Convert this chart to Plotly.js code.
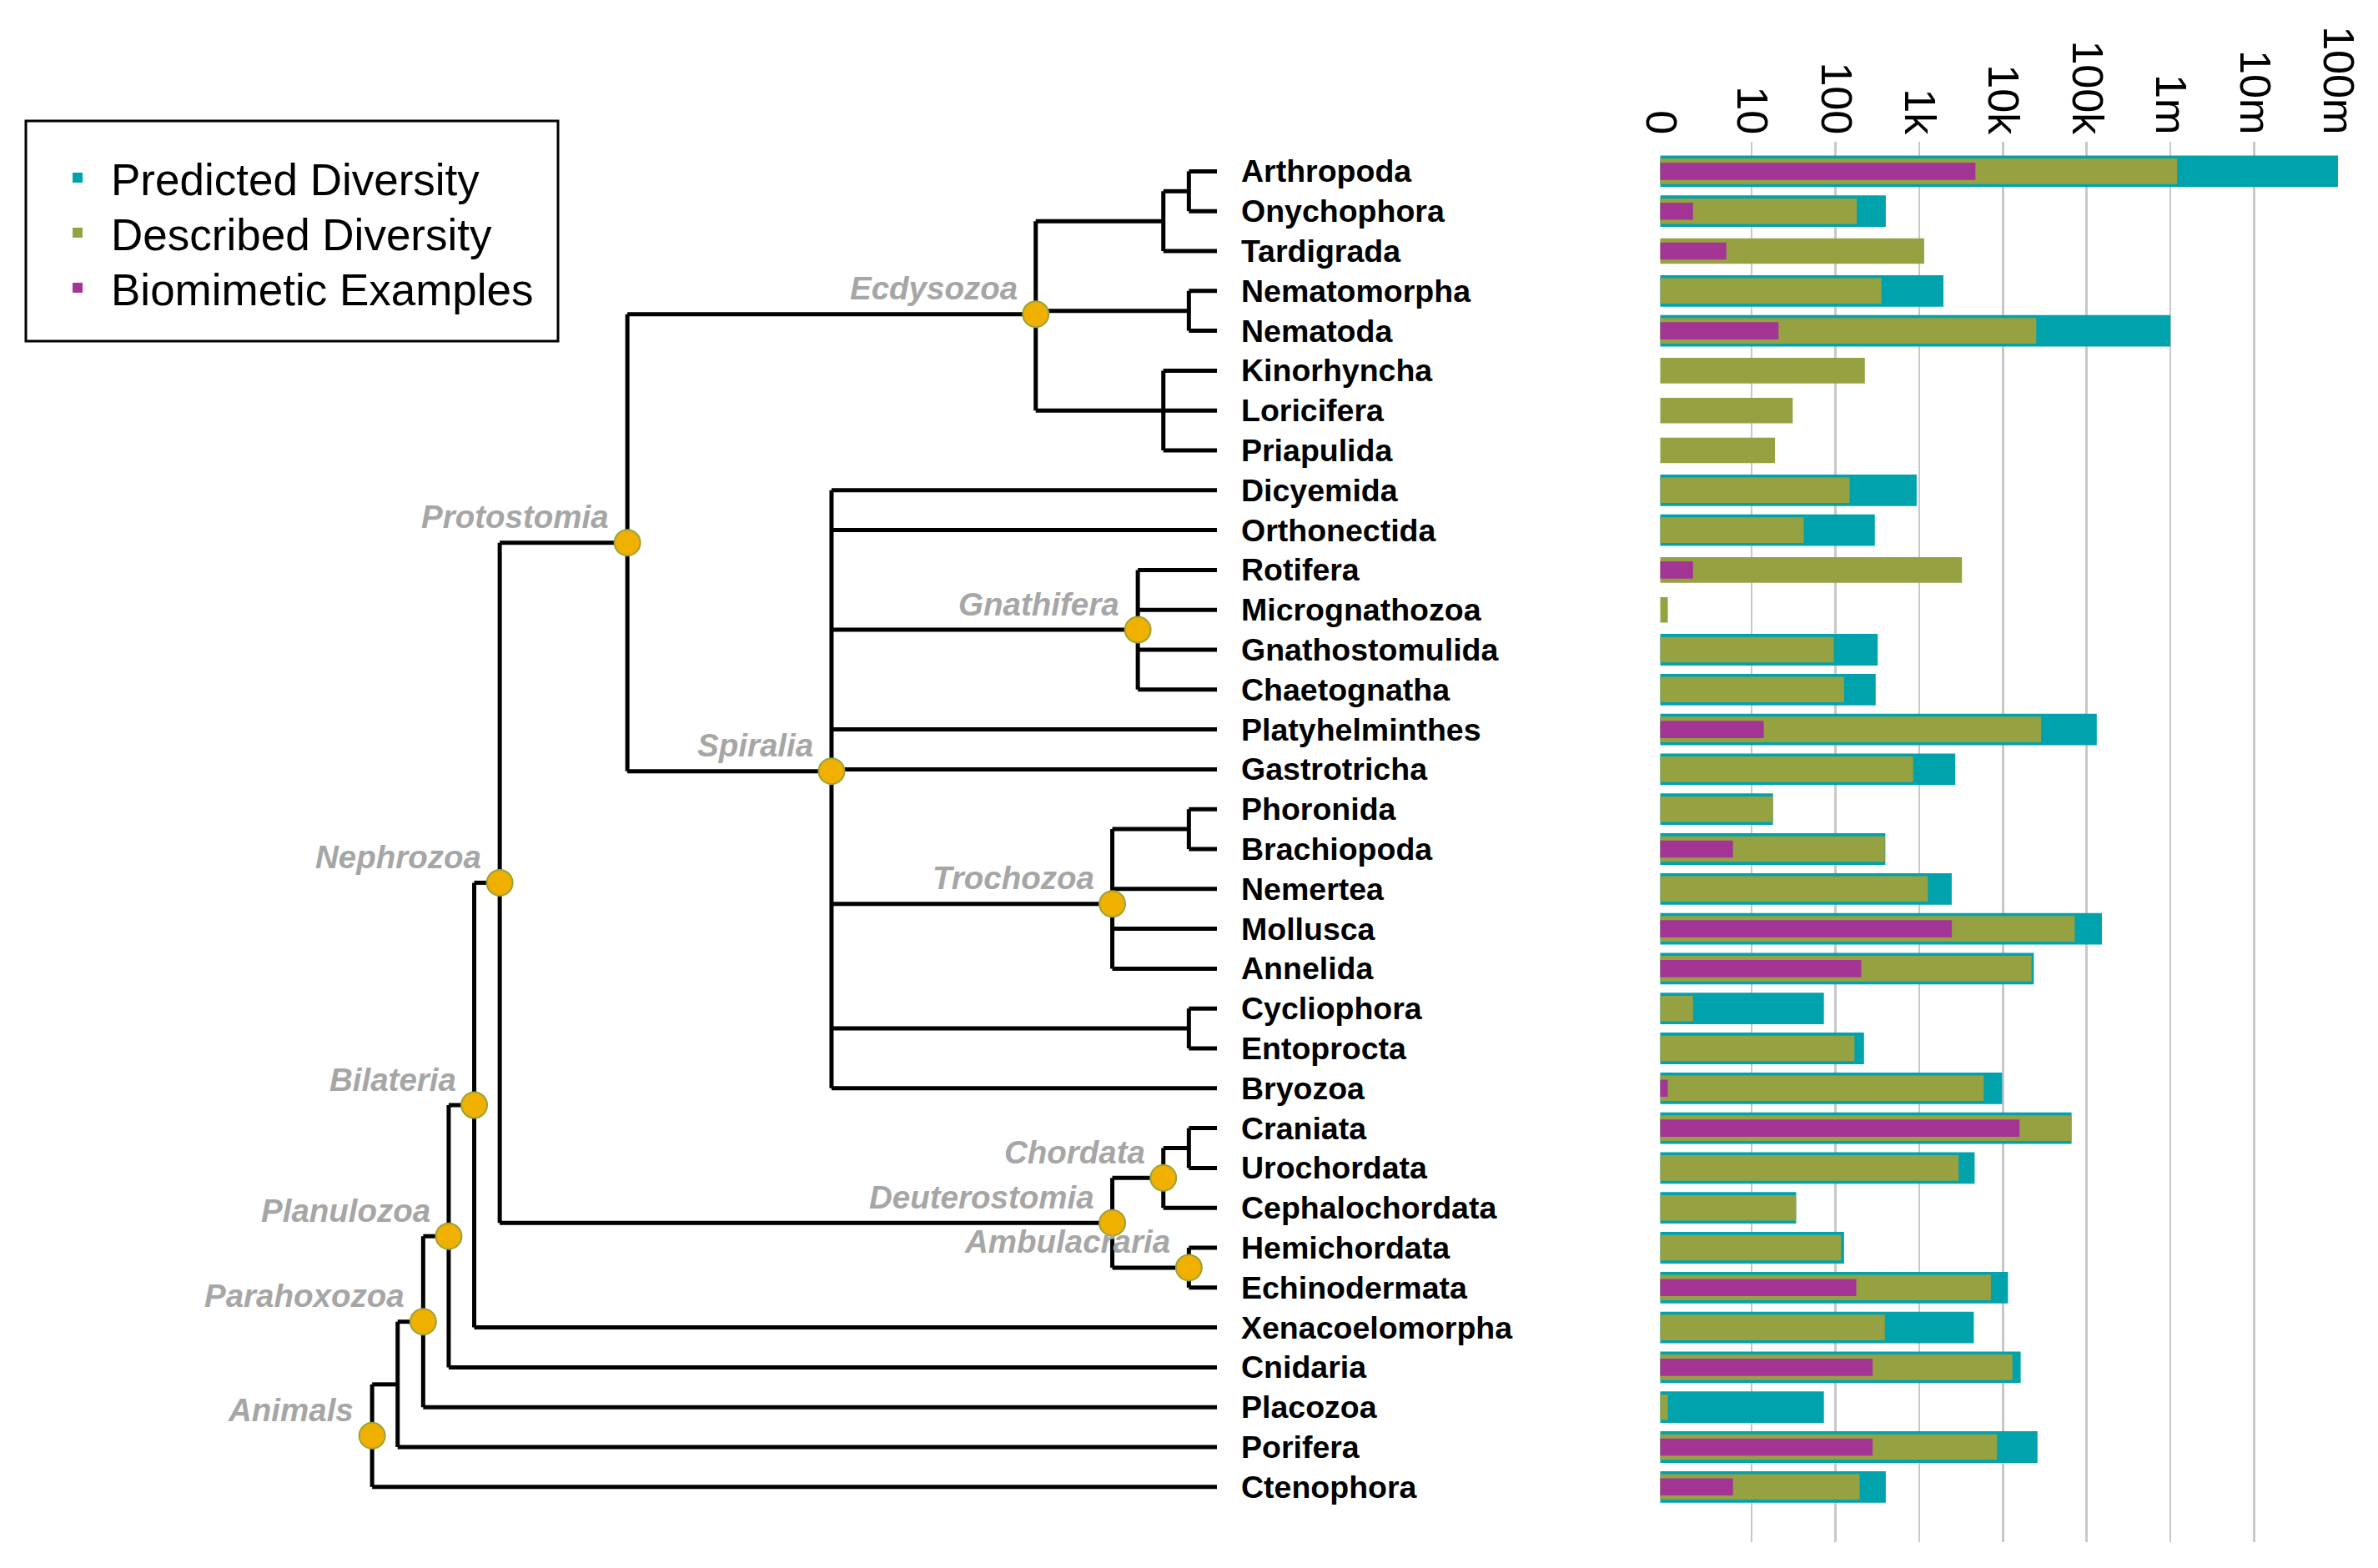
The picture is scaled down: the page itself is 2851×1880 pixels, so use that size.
<!DOCTYPE html>
<html>
<head>
<meta charset="utf-8">
<script src="https://cdn.plot.ly/plotly-3.0.1.min.js"></script>
<style>html,body{margin:0;padding:0;background:#fff;}</style>
</head>
<body>
<div id="chart" style="width:2851px;height:1880px;"></div>
<script>
// ---------------- DATA ----------------
const taxa = ['Arthropoda','Onychophora','Tardigrada','Nematomorpha','Nematoda','Kinorhyncha','Loricifera','Priapulida',
  'Dicyemida','Orthonectida','Rotifera','Micrognathozoa','Gnathostomulida','Chaetognatha','Platyhelminthes','Gastrotricha',
  'Phoronida','Brachiopoda','Nemertea','Mollusca','Annelida','Cycliophora','Entoprocta','Bryozoa',
  'Craniata','Urochordata','Cephalochordata','Hemichordata','Echinodermata','Xenacoelomorpha','Cnidaria','Placozoa','Porifera','Ctenophora'];

const predicted = [1e8, 400, null, 1950, 1e6, null, null, null,
  935, 296, null, null, 320, 303, 132000, 2700,
  18, 395, 2450, 152000, 23400, 73, 220, 9800,
  66000, 4600, 34, 127, 11500, 4500, 16300, 73, 25900, 400];

const described = [1.2e6, 180, 1150, 355, 25000, 225, 31, 19,
  148, 42, 3250, 1, 96, 127, 28600, 850,
  18, 390, 1270, 72000, 22000, 2, 169, 5900,
  66000, 2960, 34, 117, 7200, 390, 13000, 1, 8500, 195];

const biomimetic = [4700, 2, 5, null, 21, null, null, null,
  null, null, 2, null, null, null, 14, null,
  null, 6, null, 2460, 204, null, null, 1,
  15800, null, null, null, 178, null, 279, null, 279, 6];

const tickValues = [0.822, 10, 100, 1e3, 1e4, 1e5, 1e6, 1e7, 1e8];
const tickLabels = ['0','10','100','1k','10k','100k','1m','10m','100m'];

// Internal nodes of the cladogram: id, label, children, depth (branch steps from tips)
const cladeIds = ['AO','AOT','NN','KLP','Ecdysozoa','Gnathifera','PB','Trochozoa','CE','Spiralia','Protostomia',
  'CU','Chordata','Ambulacraria','Deuterostomia','Nephrozoa','Bilateria','Planulozoa','Parahoxozoa','PP','Animals'];
const cladeLabels = ['','','','','Ecdysozoa','Gnathifera','','Trochozoa','','Spiralia','Protostomia',
  '','Chordata','Ambulacraria','Deuterostomia','Nephrozoa','Bilateria','Planulozoa','Parahoxozoa','','Animals'];
const cladeChildren = [
  ['Arthropoda','Onychophora'],
  ['AO','Tardigrada'],
  ['Nematomorpha','Nematoda'],
  ['Kinorhyncha','Loricifera','Priapulida'],
  ['AOT','NN','KLP'],
  ['Rotifera','Micrognathozoa','Gnathostomulida','Chaetognatha'],
  ['Phoronida','Brachiopoda'],
  ['PB','Nemertea','Mollusca','Annelida'],
  ['Cycliophora','Entoprocta'],
  ['Dicyemida','Orthonectida','Gnathifera','Platyhelminthes','Gastrotricha','Trochozoa','CE','Bryozoa'],
  ['Ecdysozoa','Spiralia'],
  ['Craniata','Urochordata'],
  ['CU','Cephalochordata'],
  ['Hemichordata','Echinodermata'],
  ['Chordata','Ambulacraria'],
  ['Protostomia','Deuterostomia'],
  ['Nephrozoa','Xenacoelomorpha'],
  ['Bilateria','Cnidaria'],
  ['Planulozoa','Placozoa'],
  ['Parahoxozoa','Porifera'],
  ['PP','Ctenophora']
];
const cladeDepth = [-1.1,-2.1,-1.1,-2.1,-7.1,-3.1,-1.1,-4.1,-1.1,-15.1,-23.1,
  -1.1,-2.1,-1.1,-4.1,-28.1,-29.1,-30.1,-31.1,-32.1,-33.1];

// ---------------- LAYOUT CONSTANTS ----------------
const W = 2851, H = 1880;
const rowTop = 205.4, rowPitch = 47.8;      // px of first row centre, px per row
const tipPx = 1459, stepPx = 30.6;          // px of tips, px per branch step
const gridTop = 170, gridBottom = 1849;
const barLeft = 1990.5, barRight = 2803.6;
const COL_PRED = '#00A2AC', COL_DESC = '#96A242', COL_BIO = '#A33695';
const FONT = 'Liberation Sans, Arial, sans-serif';
const legendRowsPx = [213, 279, 345];

// ---------------- TREE GEOMETRY ----------------
const pos = {};
taxa.forEach((t, i) => { pos[t] = {x: 0, y: i}; });
cladeIds.forEach((id, k) => {
  const ys = cladeChildren[k].map(c => pos[c].y);
  pos[id] = {x: cladeDepth[k], y: ys.reduce((a, b) => a + b, 0) / ys.length};
});

const lx = [], ly = [];
cladeIds.forEach((id, k) => {
  const p = pos[id];
  const ys = cladeChildren[k].map(c => pos[c].y);
  lx.push(p.x, p.x, null); ly.push(Math.min(...ys), Math.max(...ys), null);
  cladeChildren[k].forEach(c => {
    lx.push(p.x, pos[c].x, null); ly.push(pos[c].y, pos[c].y, null);
  });
});

const named = cladeIds.filter((id, k) => cladeLabels[k] !== '');
const traces = [];
traces.push({type:'scatter', mode:'lines', x: lx, y: ly, xaxis:'x', yaxis:'y',
  line:{color:'#000', width:5}, showlegend:false, hoverinfo:'skip'});
traces.push({type:'scatter', mode:'markers', x: named.map(id => pos[id].x), y: named.map(id => pos[id].y),
  xaxis:'x', yaxis:'y', showlegend:false, hoverinfo:'skip',
  marker:{size:31, color:'#F0B000', line:{color:'#9AA23A', width:2}}});

// ---------------- BARS ----------------
const rows = taxa.map((t, i) => i);
traces.push({type:'bar', orientation:'h', name:'Predicted Diversity', x: predicted, y: rows,
  xaxis:'x2', yaxis:'y2', width:0.79, marker:{color:COL_PRED}, legend:'legend'});
traces.push({type:'bar', orientation:'h', name:'Described Diversity', x: described, y: rows,
  xaxis:'x2', yaxis:'y2', width:0.64, marker:{color:COL_DESC}, legend:'legend2'});
traces.push({type:'bar', orientation:'h', name:'Biomimetic Examples', x: biomimetic, y: rows,
  xaxis:'x2', yaxis:'y2', width:0.43, marker:{color:COL_BIO}, legend:'legend3'});

// ---------------- ANNOTATIONS ----------------
const annotations = [];
taxa.forEach((t, i) => {
  annotations.push({x: 0, y: i, xref:'x', yref:'y', text: t, showarrow:false, xanchor:'left', yanchor:'middle',
    xshift: 27, font:{family:FONT, size:37.5, color:'#000', weight:'bold'}});
});
cladeIds.forEach((id, k) => {
  if (!cladeLabels[k]) return;
  annotations.push({x: pos[id].x, y: pos[id].y, xref:'x', yref:'y', text: cladeLabels[k], showarrow:false,
    xanchor:'right', yanchor:'middle', xshift:-20, yshift:31,
    font:{family:FONT, size:38.5, color:'#A6A6A6', weight:'bold', style:'italic'}});
});

// ---------------- AXES ----------------
const treeRange = [-tipPx / stepPx, (W - tipPx) / stepPx];
const yRange = [(H - rowTop) / rowPitch, -rowTop / rowPitch];
const y2Range = [(gridBottom - rowTop) / rowPitch, -(rowTop - gridTop) / rowPitch];
const pxPerDec = (2803 - 1991) / (8 - Math.log10(tickValues[0]));
const x2Range = [Math.log10(tickValues[0]) - (1991 - barLeft) / pxPerDec, 8 + (barRight - 2803) / pxPerDec];

function legendAt(rowPx) {
  return {x: 53 / W, y: 1 - rowPx / H, xanchor:'left', yanchor:'middle', bgcolor:'rgba(0,0,0,0)',
    borderwidth:0, itemwidth:70, font:{family:FONT, size:53, color:'#000'}};
}

const layout = {
  width: W, height: H,
  margin:{l:0, r:0, t:0, b:0, pad:0},
  paper_bgcolor:'#fff', plot_bgcolor:'rgba(0,0,0,0)',
  barmode:'overlay',
  showlegend:true,
  legend: legendAt(legendRowsPx[0]),
  legend2: legendAt(legendRowsPx[1]),
  legend3: legendAt(legendRowsPx[2]),
  shapes:[{type:'rect', xref:'paper', yref:'paper', x0: 31 / W, x1: 669 / W, y0: 1 - 409 / H, y1: 1 - 145 / H,
    line:{color:'#000', width:3}, fillcolor:'#fff', layer:'below'}],
  xaxis:{domain:[0,1], range: treeRange, visible:false, fixedrange:true},
  yaxis:{domain:[0,1], range: yRange, visible:false, fixedrange:true},
  xaxis2:{domain:[barLeft / W, barRight / W], range: x2Range, type:'log', anchor:'y2', side:'top',
    tickmode:'array', tickvals: tickValues, ticktext: tickLabels, tickangle:90, ticks:'',
    showgrid:true, gridcolor:'#C8C8C8', gridwidth:2.5, zeroline:false, showline:false,
    tickfont:{family:FONT, size:52, color:'#000'}},
  yaxis2:{domain:[1 - gridBottom / H, 1 - gridTop / H], range: y2Range, anchor:'x2', visible:false,
    showgrid:false, zeroline:false},
  annotations: annotations,
  hovermode:false
};

Plotly.newPlot('chart', traces, layout, {staticPlot:true, displayModeBar:false});
</script>
</body>
</html>
